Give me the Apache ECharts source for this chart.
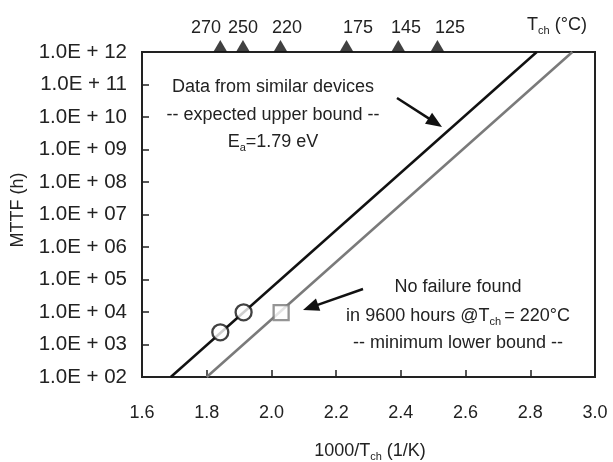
<!DOCTYPE html>
<html>
<head>
<meta charset="utf-8">
<script src="https://cdn.jsdelivr.net/npm/echarts@6/dist/echarts.min.js"></script>
<style>html,body{margin:0;padding:0;background:#fff}#c{width:613px;height:462px}</style>
</head>
<body>
<div id="c"></div>
<script>
// ---- data ----
var upperLine = [[1.689, 1e2], [2.82, 1e12]];      // Ea = 1.79 eV, similar devices
var lowerLine = [[1.80, 1e2], [2.93, 1e12]];       // minimum lower bound
var circlePoints = [[1.842, 2370], [1.914, 9800]];  // data from similar devices
var squarePoints = [[2.030, 9600]];                 // no failure @220C
var tempX = [1.842, 1.912, 2.028, 2.232, 2.392, 2.513];
var tempLabels = ['270', '250', '220', '175', '145', '125'];
var xTicks = ['1.6','1.8','2.0','2.2','2.4','2.6','2.8','3.0'];

var FONT = 'Liberation Sans, Arial, sans-serif';
var TXT = '#222';
var chart = echarts.init(document.getElementById('c'));

var rich = {
  n: {fontSize: 18, fontFamily: FONT, color: TXT, lineHeight: 22},
  s: {fontSize: 11, fontFamily: FONT, color: TXT, lineHeight: 12, verticalAlign: 'bottom'}
};

function txt(x, y, text) {
  return {type: 'text', x: x, y: y, z: 10,
    style: {text: text, rich: rich, align: 'center', verticalAlign: 'middle', fill: TXT}};
}
function arrow(x1, y1, x2, y2) {
  var dx = x2 - x1, dy = y2 - y1, L = Math.sqrt(dx*dx + dy*dy);
  var ux = dx / L, uy = dy / L, hl = 16, hw = 6.5;
  var bx = x2 - ux*hl, by = y2 - uy*hl;
  return [
    {type: 'line', z: 10, shape: {x1: x1, y1: y1, x2: bx + ux*2, y2: by + uy*2}, style: {stroke: '#111', lineWidth: 2.5}},
    {type: 'polygon', z: 10, shape: {points: [[x2, y2], [bx - uy*hw, by + ux*hw], [bx + uy*hw, by - ux*hw]]}, style: {fill: '#111'}}
  ];
}

var graphics = [];
var tempLabelX = [206, 243, 287, 358, 406, 450];
tempLabels.forEach(function (t, i) { graphics.push(txt(tempLabelX[i], 28, '{n|' + t + '}')); });
graphics.push(txt(557, 25, '{n|T}{s|ch}{n| (°C)}'));
graphics.push(txt(273, 87, '{n|Data from similar devices}'));
graphics.push(txt(273, 115, '{n|-- expected upper bound --}'));
graphics.push(txt(273, 142, '{n|E}{s|a}{n|=1.79 eV}'));
graphics.push(txt(458, 287, '{n|No failure found}'));
graphics.push(txt(458, 316, '{n|in 9600 hours @T}{s|ch }{n|= 220°C}'));
graphics.push(txt(458, 343, '{n|-- minimum lower bound --}'));
graphics.push(txt(370, 451, '{n|1000/T}{s|ch}{n| (1/K)}'));
graphics = graphics.concat(arrow(397, 98, 442, 127));
graphics = graphics.concat(arrow(363, 289, 303, 310));
graphics.push({type: 'text', x: 18, y: 210, rotation: Math.PI/2, z: 10,
  style: {text: 'MTTF (h)', fontSize: 18, fontFamily: FONT, fill: TXT, align: 'center', verticalAlign: 'middle'}});

chart.setOption({
  animation: false,
  backgroundColor: '#fff',
  grid: {left: 142, right: 18, top: 52, bottom: 85, show: true, borderColor: '#222', borderWidth: 2,
    backgroundColor: 'transparent', containLabel: false, outerBoundsMode: 'none'},
  xAxis: {
    type: 'value', min: 1.6, max: 3.0, interval: 0.2,
    axisLine: {show: false},
    axisTick: {show: true, inside: true, length: 7, lineStyle: {color: '#222', width: 1.5}},
    splitLine: {show: false},
    axisLabel: {margin: 27, fontSize: 18, fontFamily: FONT, color: TXT,
      formatter: function (v) { return v.toFixed(1); }}
  },
  yAxis: {
    type: 'log', logBase: 10, min: 1e2, max: 1e12, interval: 1,
    axisLine: {show: false},
    axisTick: {show: true, inside: true, length: 7, lineStyle: {color: '#222', width: 1.5}},
    splitLine: {show: false},
    minorTick: {show: false},
    axisLabel: {margin: 15, fontSize: 20.5, fontFamily: FONT, color: TXT,
      formatter: function (v) {
        var e = Math.round(Math.log10(v));
        return '1.0E + ' + (e < 10 ? '0' + e : e);
      }}
  },
  series: [
    {type: 'line', data: upperLine, symbol: 'none', lineStyle: {color: '#111', width: 2.5}, z: 2},
    {type: 'line', data: lowerLine, symbol: 'none', lineStyle: {color: '#7a7a7a', width: 2.5}, z: 2},
    {type: 'scatter', data: circlePoints, symbol: 'circle', symbolSize: 16,
      itemStyle: {color: '#fff', borderColor: '#111', borderWidth: 2.3}, z: 3},
    {type: 'scatter', data: squarePoints, symbol: 'rect', symbolSize: 15,
      itemStyle: {color: '#fff', borderColor: '#7a7a7a', borderWidth: 2.3}, z: 3},
    {type: 'scatter', data: tempX.map(function (x) { return [x, 1e12]; }), symbol: 'triangle',
      symbolSize: [14, 12], symbolOffset: [0, -6], clip: false,
      itemStyle: {color: '#111'}, z: 4}
  ],
  graphic: graphics
});
</script>
</body>
</html>
